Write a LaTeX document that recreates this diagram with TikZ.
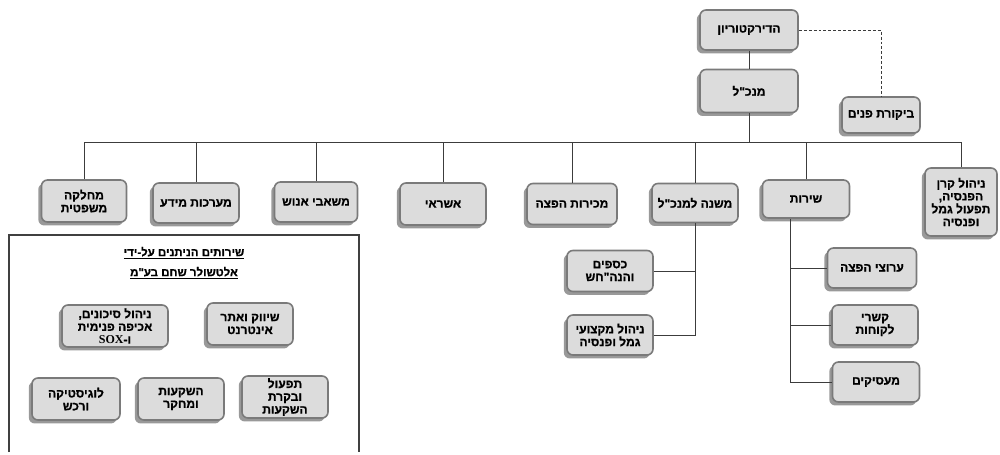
\documentclass[tikz,border=0pt]{standalone}
\usepackage{fontspec}
\setmainfont{Liberation Sans}[Script=Hebrew, Ligatures=TeXOff]
\newfontfamily\hebbold{Liberation Sans Bold}[Script=Hebrew, Ligatures=TeXOff, FakeBold=0.9]
\newfontfamily\latinserif{Liberation Serif Bold}
\usetikzlibrary{shadows}
\TeXXeTstate=1
\newcommand{\hebline}[1]{\beginR #1\endR}
\definecolor{boxfill}{HTML}{DCDCDC}
\definecolor{boxline}{HTML}{7A7A7A}
\definecolor{linkline}{HTML}{3C3C3C}

\begin{document}
\begin{tikzpicture}[x=0.75pt,y=-0.75pt,
  unit/.style={draw=boxline, fill=boxfill, line width=1.2pt, rounded corners=4.5pt,
    drop shadow={shadow xshift=-2.4pt, shadow yshift=-2.6pt, fill=black!40, opacity=1},
    font=\hebbold\fontsize{9}{9.6}\selectfont, align=center, inner sep=1pt},
  boxsize/.style 2 args={minimum width=#1*0.75pt, minimum height=#2*0.75pt},
  link/.style={draw=linkline, line width=0.6pt}]
\useasboundingbox (0,0) rectangle (1000,454);

% top of the chart
\node [unit, boxsize={98}{40}] (board) at (749,30) {\hebline{הדירקטוריון}};
\node [unit, boxsize={98}{43}] (ceo) at (749,91) {\hebline{מנכ"ל}};
\node [unit, boxsize={78}{36}] (audit) at (881,115) {\hebline{ביקורת פנים}};
\coordinate (bar) at (749,142);

% units under the manager
\node [unit, boxsize={72}{68}] (pension) at (961,202) {\hebline{ניהול קרן}\\\hebline{הפנסיה,}\\\hebline{תפעול גמל}\\\hebline{ופנסיה}};
\node [unit, boxsize={87}{38}] (service) at (806,199) {\hebline{שירות}};
\node [unit, boxsize={86}{39}] (deputy) at (695,203) {\hebline{משנה למנכ"ל}};
\node [unit, boxsize={90}{41}] (sales) at (572,204) {\hebline{מכירות הפצה}};
\node [unit, boxsize={86}{42}] (credit) at (443,204) {\hebline{אשראי}};
\node [unit, boxsize={83}{40}] (hr) at (316,202) {\hebline{משאבי אנוש}};
\node [unit, boxsize={86}{40}] (infosys) at (196,203) {\hebline{מערכות מידע}};
\node [unit, boxsize={85}{42}] (legal) at (84,201) {\hebline{מחלקה}\\\hebline{משפטית}};

% second level
\node [unit, boxsize={86}{41}] (finance) at (610,271) {\hebline{כספים}\\\hebline{והנה"חש}};
\node [unit, boxsize={86}{40}] (profmgmt) at (610,335) {\hebline{ניהול מקצועי}\\\hebline{גמל ופנסיה}};
\node [unit, boxsize={89}{40}] (channels) at (872,268) {\hebline{ערוצי הפצה}};
\node [unit, boxsize={86}{40}] (clients) at (875,325) {\hebline{קשרי}\\\hebline{לקוחות}};
\node [unit, boxsize={87}{40}] (employers) at (876,382) {\hebline{מעסיקים}};

% services given by the company
\draw [draw=black!75, line width=0.8pt] (9,452)--(9,235)--(359,235)--(359,452);
\node [font=\hebbold\fontsize{8.6}{10}\selectfont] (svctitle) at (184,253) {\underline{\hebline{שירותים הניתנים על-ידי}}};
\node [font=\hebbold\fontsize{8.6}{10}\selectfont] (svcname) at (184,273) {\underline{\hebline{אלטשולר שחם בע"מ}}};
\node [unit, boxsize={86}{42}] (marketing) at (250,324) {\hebline{שיווק ואתר}\\\hebline{אינטרנט}};
\node [unit, boxsize={106}{42}] (risk) at (115,326) {\hebline{ניהול סיכונים,}\\\hebline{אכיפה פנימית}\\\hebline{ו-\beginL{\latinserif SOX}\endL}};
\node [unit, boxsize={88}{42}] (logistics) at (76,399) {\hebline{לוגיסטיקה}\\\hebline{ורכש}};
\node [unit, boxsize={86}{42}] (research) at (181,399) {\hebline{השקעות}\\\hebline{ומחקר}};
\node [unit, boxsize={86}{42}] (invops) at (285,397) {\hebline{תפעול}\\\hebline{ובקרת}\\\hebline{השקעות}};

% connectors
\draw [link] (board)--(ceo);
\draw [link, dash pattern=on 2.2pt off 1.5pt] (board.east) -| (audit.north);
\draw [link] (ceo)--(bar);
\draw [link] (legal.north |- bar)--(pension.north |- bar);
\draw [link] (legal.north)--(legal.north |- bar);
\draw [link] (infosys.north)--(infosys.north |- bar);
\draw [link] (hr.north)--(hr.north |- bar);
\draw [link] (credit.north)--(credit.north |- bar);
\draw [link] (sales.north)--(sales.north |- bar);
\draw [link] (deputy.north)--(deputy.north |- bar);
\draw [link] (service.north)--(service.north |- bar);
\draw [link] (pension.north)--(pension.north |- bar);

\draw [link] (deputy.south) |- (profmgmt.east);
\draw [link] (finance.east)--(finance.east -| deputy.south);

\coordinate (spine) at ([xshift=-12pt]service.south);
\draw [link] (spine) |- (employers.west);
\draw [link] (channels.west)--(channels.west -| spine);
\draw [link] (clients.west)--(clients.west -| spine);

\end{tikzpicture}
\end{document}
